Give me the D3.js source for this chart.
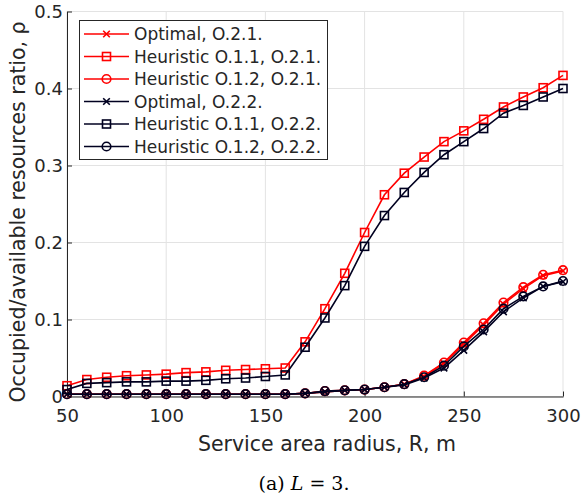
<!DOCTYPE html>
<html><head><meta charset="utf-8">
<script src="https://cdn.jsdelivr.net/npm/d3@7"></script>
<style>body{margin:0;background:#fff}svg{display:block}</style>
</head><body>
<svg id="c" width="584" height="496"></svg>
<script>
const radius = [50,60,70,80,90,100,110,120,130,140,150,160,170,180,190,200,210,220,230,240,250,260,270,280,290,300];
const optimal21 = [0.003,0.003,0.003,0.003,0.003,0.003,0.003,0.003,0.003,0.003,0.003,0.003,0.004,0.006,0.008,0.009,0.012,0.016,0.026,0.043,0.068,0.093,0.120,0.140,0.157,0.163];
const heur11_21 = [0.014,0.022,0.025,0.027,0.028,0.029,0.031,0.032,0.034,0.035,0.036,0.037,0.071,0.114,0.160,0.213,0.262,0.290,0.311,0.331,0.345,0.360,0.376,0.389,0.401,0.417];
const heur12_21 = [0.003,0.003,0.003,0.003,0.003,0.003,0.003,0.003,0.003,0.003,0.003,0.003,0.004,0.007,0.008,0.009,0.012,0.016,0.027,0.044,0.070,0.095,0.122,0.142,0.158,0.164];
const optimal22 = [0.003,0.003,0.003,0.003,0.003,0.003,0.003,0.003,0.003,0.003,0.003,0.003,0.004,0.006,0.008,0.009,0.012,0.015,0.024,0.037,0.060,0.084,0.110,0.128,0.143,0.149];
const heur11_22 = [0.009,0.017,0.018,0.019,0.019,0.020,0.020,0.021,0.023,0.024,0.026,0.028,0.064,0.102,0.144,0.195,0.235,0.265,0.291,0.314,0.331,0.348,0.368,0.378,0.389,0.400];
const heur12_22 = [0.003,0.003,0.003,0.003,0.003,0.003,0.003,0.003,0.003,0.003,0.003,0.003,0.004,0.007,0.008,0.009,0.012,0.016,0.025,0.040,0.065,0.087,0.114,0.130,0.143,0.150];
const xTicks = [50,100,150,200,250,300];
const yTicks = [0,0.1,0.2,0.3,0.4,0.5];
const labels = ["Optimal, O.2.1.","Heuristic O.1.1, O.2.1.","Heuristic O.1.2, O.2.1.","Optimal, O.2.2.","Heuristic O.1.1, O.2.2.","Heuristic O.1.2, O.2.2."];
const RED = "#ff0000", DARK = "#000020";
const series = [
  {v: optimal21, c: RED, m: "x"},
  {v: heur11_21, c: RED, m: "s"},
  {v: heur12_21, c: RED, m: "o"},
  {v: optimal22, c: DARK, m: "x"},
  {v: heur11_22, c: DARK, m: "s"},
  {v: heur12_22, c: DARK, m: "o"}
];

const svg = d3.select("#c");
const L = 67, R = 563, T = 11.5, B = 396.5;
const x = d3.scaleLinear().domain([50,300]).range([L,R]);
const y = d3.scaleLinear().domain([0,0.5]).range([B,T]);
const font = "DejaVu Sans, sans-serif";

// grid
const g = svg.append("g");
g.selectAll(".gx").data(xTicks).enter().append("line")
  .attr("x1",d=>x(d)).attr("x2",d=>x(d)).attr("y1",T).attr("y2",B)
  .attr("stroke","#e3e3e3").attr("stroke-width",1);
g.selectAll(".gy").data(yTicks).enter().append("line")
  .attr("x1",L).attr("x2",R).attr("y1",d=>y(d)).attr("y2",d=>y(d))
  .attr("stroke","#e3e3e3").attr("stroke-width",1);

// axes
const xAxis = svg.append("g").attr("transform",`translate(0,${B})`)
  .call(d3.axisBottom(x).tickValues(xTicks).tickSizeInner(-5).tickSizeOuter(0).tickPadding(13).tickFormat(d3.format("d")));
const yAxis = svg.append("g").attr("transform",`translate(${L},0)`)
  .call(d3.axisLeft(y).tickValues(yTicks).tickSizeInner(-5).tickSizeOuter(0).tickPadding(4).tickFormat(d=>d===0?"0":d3.format(".1f")(d)));
[xAxis,yAxis].forEach(a=>{
  a.select(".domain").attr("stroke","#262626").attr("stroke-width",1);
  a.selectAll(".tick line").attr("stroke","#262626");
  a.selectAll("text").attr("font-family",font).attr("font-size",18).attr("fill","#262626");
});

// series
const line = d3.line().x((d,i)=>x(radius[i])).y(d=>y(d));
series.forEach(s=>{
  const sg = svg.append("g");
  sg.append("path").datum(s.v).attr("d",line).attr("fill","none").attr("stroke",s.c).attr("stroke-width",1.6);
  drawMarkers(sg, s.v.map((d,i)=>[x(radius[i]),y(d)]), s);
});

function drawMarkers(sel, pts, s){
  pts.forEach(([px,py])=>{
    if(s.m==="s"){
      sel.append("rect").attr("x",px-4).attr("y",py-4).attr("width",8).attr("height",8)
        .attr("fill","none").attr("stroke",s.c).attr("stroke-width",1.6);
    } else if(s.m==="o"){
      sel.append("circle").attr("cx",px).attr("cy",py).attr("r",4.3)
        .attr("fill","none").attr("stroke",s.c).attr("stroke-width",1.6);
    } else {
      const k=3.3;
      sel.append("path").attr("d",`M${px-k},${py-k}L${px+k},${py+k}M${px-k},${py+k}L${px+k},${py-k}`)
        .attr("stroke",s.c).attr("stroke-width",1.6);
    }
  });
}

// legend
const lg = svg.append("g");
lg.append("rect").attr("x",79.5).attr("y",20.5).attr("width",248).attr("height",139)
  .attr("fill","#fff").attr("stroke","#262626").attr("stroke-width",1);
labels.forEach((t,i)=>{
  const cy = 34 + i*22.5;
  const s = series[i];
  lg.append("line").attr("x1",84).attr("x2",129).attr("y1",cy).attr("y2",cy).attr("stroke",s.c).attr("stroke-width",1.6);
  drawMarkers(lg, [[106.5,cy]], s);
  lg.append("text").attr("x",134).attr("y",cy+6).attr("font-family",font).attr("font-size",17)
    .attr("fill","#262626").text(t);
});

// titles
svg.append("text").attr("x",327).attr("y",451).attr("text-anchor","middle")
  .attr("font-family",font).attr("font-size",20.5).attr("fill","#262626").text("Service area radius, R, m");
svg.append("text").attr("transform",`translate(25,${(T+B)/2+8}) rotate(-90)`).attr("text-anchor","middle")
  .attr("font-family",font).attr("font-size",20.5).attr("fill","#262626").text("Occupied/available resources ratio, ρ");

// caption
const cap = svg.append("text").attr("x",304).attr("y",490).attr("text-anchor","middle")
  .attr("font-family","DejaVu Serif, serif").attr("font-size",19).attr("fill","#000");
cap.append("tspan").text("(a) ");
cap.append("tspan").attr("font-style","italic").text("L");
cap.append("tspan").text(" = 3.");
</script>
</body></html>
